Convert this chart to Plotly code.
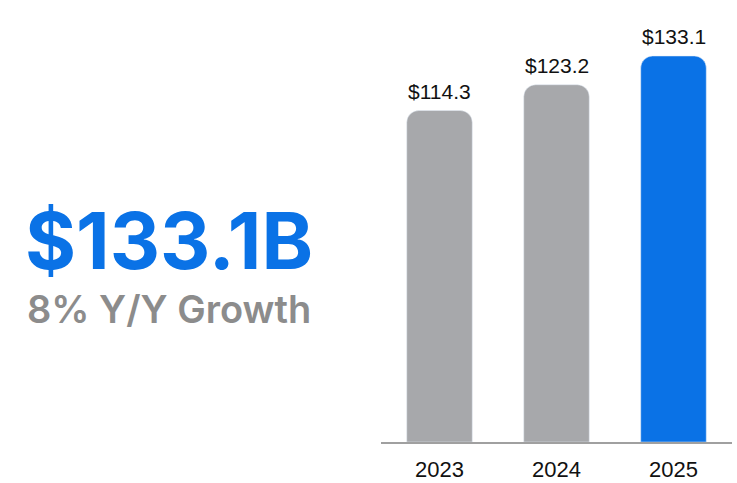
import plotly.graph_objects as go

years = ["2023", "2024", "2025"]
revenue = [114.3, 123.2, 133.1]
bar_colors = ["#A7A8AB", "#A7A8AB", "#0A72E6"]
headline = "$133.1B"
subline = "8% Y/Y Growth"

fig = go.Figure()
fig.add_trace(go.Bar(
    x=years, y=revenue,
    width=0.56,
    marker=dict(color=bar_colors, cornerradius=12),
    hoverinfo="skip",
))

for i, v in enumerate(revenue):
    fig.add_annotation(x=i, y=v, xref="x", yref="y", text=f"${v:.1f}", showarrow=False,
                       yanchor="bottom", yshift=6,
                       font=dict(family="Liberation Sans, Arial", size=21, color="#111111"))

fig.add_annotation(xref="paper", yref="paper", x=23/737, y=0.501, xanchor="left", yanchor="middle",
                   text=f"<b>{headline}</b>", showarrow=False,
                   font=dict(family="Inter", size=78, color="#0A72E6"))
fig.add_annotation(xref="paper", yref="paper", x=25/737, y=0.331, xanchor="left", yanchor="middle",
                   text=subline, showarrow=False,
                   font=dict(family="Inter", size=38, color="#8C8C8C", weight=600))

fig.update_layout(
    width=737, height=483,
    margin=dict(l=0, r=0, t=40, b=41, autoexpand=False),
    paper_bgcolor="white", plot_bgcolor="white",
    showlegend=False,
    xaxis=dict(type="category", categoryorder="array", categoryarray=years,
               range=[-0.5, len(years) - 0.5],
               domain=[381/737, 732/737], showline=True, linecolor="#A0A0A0", linewidth=1.5,
               showgrid=False, ticks="", ticklabelstandoff=7, automargin=False,
               tickfont=dict(family="Liberation Sans, Arial", size=22, color="#111111")),
    yaxis=dict(range=[0, 402/2.9], visible=False, showgrid=False, zeroline=False, automargin=False),
)

fig.write_html("out.html", config={"displayModeBar": False},
               post_script="document.body.style.margin='0px';")
